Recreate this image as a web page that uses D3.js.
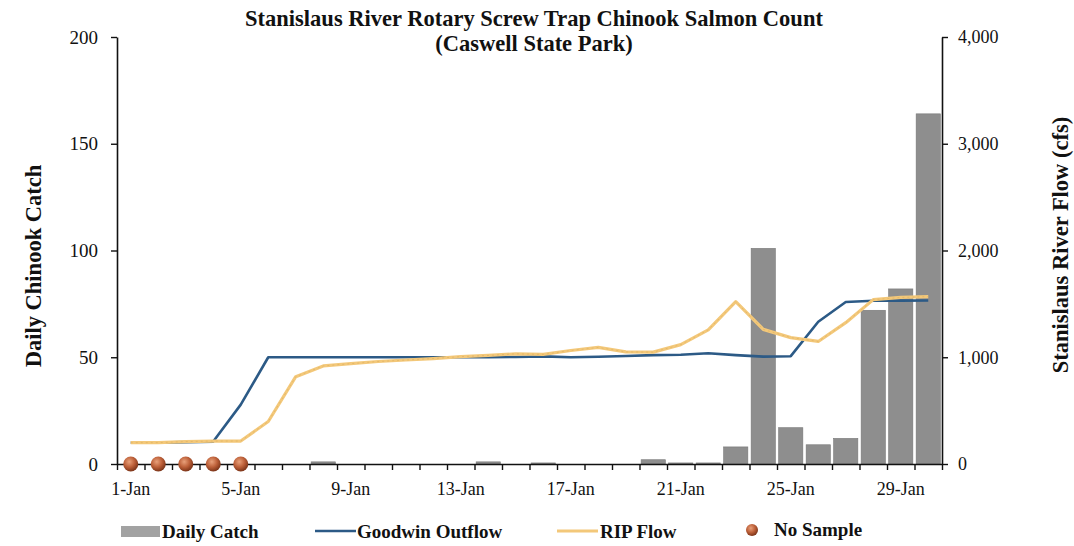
<!DOCTYPE html>
<html>
<head>
<meta charset="utf-8">
<script src="https://cdn.jsdelivr.net/npm/d3@7"></script>
<style>
  html, body { margin: 0; padding: 0; background: #fff; }
  svg { display: block; }
  text { font-family: "Liberation Serif", "Times New Roman", serif; }
</style>
</head>
<body>
<svg id="chart" width="1074" height="546"></svg>
<script>
// ---- data ----
const categories = ["1-Jan","2-Jan","3-Jan","4-Jan","5-Jan","6-Jan","7-Jan","8-Jan","9-Jan","10-Jan",
  "11-Jan","12-Jan","13-Jan","14-Jan","15-Jan","16-Jan","17-Jan","18-Jan","19-Jan","20-Jan",
  "21-Jan","22-Jan","23-Jan","24-Jan","25-Jan","26-Jan","27-Jan","28-Jan","29-Jan","30-Jan"];
const xTickLabels = ["1-Jan","5-Jan","9-Jan","13-Jan","17-Jan","21-Jan","25-Jan","29-Jan"];
const dailyCatch = [null,null,null,null,null,0,0,1,0,0,0,0,0,1,0,0.5,0,0,0,2,0.5,0.5,8,101,17,9,12,72,82,164];
const goodwinOutflow = [200,200,205,210,556,1000,1000,1000,1000,1000,1000,1000,1000,1000,1003,1008,1000,1004,1012,1020,1024,1037,1020,1006,1010,1333,1517,1529,1530,1532];
const ripFlow = [200,200,210,215,215,398,818,919,940,960,974,988,1006,1017,1032,1027,1063,1092,1050,1048,1118,1257,1520,1261,1184,1148,1324,1540,1560,1568];
const noSampleDays = ["1-Jan","2-Jan","3-Jan","4-Jan","5-Jan"];
const leftTicks = [0,50,100,150,200];
const rightTicks = [0,1000,2000,3000,4000];
const titleLines = ["Stanislaus River Rotary Screw Trap Chinook Salmon Count","(Caswell State Park)"];
const legendItems = ["Daily Catch","Goodwin Outflow","RIP Flow","No Sample"];

// ---- layout ----
const L = 117, R = 942, T = 37, B = 464;
const svg = d3.select("#chart");

const x = d3.scaleBand().domain(categories).range([L, R]).paddingInner(0.12).paddingOuter(0.06);
const xIdx = d3.scaleLinear().domain([0, categories.length]).range([L, R]);
const yL = d3.scaleLinear().domain([0, 200]).range([B, T]);
const yR = d3.scaleLinear().domain([0, 4000]).range([B, T]);
const cx = d => x(d) + x.bandwidth() / 2;

const defs = svg.append("defs");
const grad = defs.append("radialGradient").attr("id", "ball").attr("cx", "40%").attr("cy", "35%").attr("r", "65%");
grad.append("stop").attr("offset", "0%").attr("stop-color", "#e8a07a");
grad.append("stop").attr("offset", "55%").attr("stop-color", "#bd6039");
grad.append("stop").attr("offset", "100%").attr("stop-color", "#7d3519");

// bars
svg.append("g").selectAll("rect")
  .data(categories.map((c, i) => ({c, v: dailyCatch[i]})).filter(d => d.v != null && d.v > 0))
  .join("rect")
  .attr("x", d => x(d.c))
  .attr("width", x.bandwidth())
  .attr("y", d => yL(d.v))
  .attr("height", d => B - yL(d.v))
  .attr("fill", "#8e8e8e")
  .attr("stroke", "#777")
  .attr("stroke-width", 0.6);

// lines
const lineGen = d3.line().x((d, i) => cx(categories[i])).y(d => yR(d));
svg.append("path").datum(goodwinOutflow)
  .attr("d", lineGen).attr("fill", "none")
  .attr("stroke", "#2c5a86").attr("stroke-width", 2.6).attr("stroke-linejoin", "round");
svg.append("path").datum(ripFlow)
  .attr("d", lineGen).attr("fill", "none")
  .attr("stroke", "#f3c87a").attr("stroke-width", 3.2).attr("stroke-linejoin", "round");
svg.append("path").datum(ripFlow)
  .attr("d", lineGen).attr("fill", "none")
  .attr("stroke", "#dcae5c").attr("stroke-width", 1).attr("stroke-dasharray", "2,3").attr("opacity", 0.6);

// axes
const axisStyle = g => {
  g.selectAll(".domain").attr("stroke", "#111").attr("stroke-width", 1.6);
  g.selectAll(".tick line").attr("stroke", "#111").attr("stroke-width", 1.4);
  g.selectAll("text").attr("font-family", "Liberation Serif, serif").attr("fill", "#111");
};

svg.append("g").attr("transform", `translate(${L},0)`)
  .call(d3.axisLeft(yL).tickValues(leftTicks).tickSize(6).tickSizeOuter(0).tickPadding(13))
  .call(axisStyle)
  .selectAll("text").attr("font-size", 19);

svg.append("g").attr("transform", `translate(${R},0)`)
  .call(d3.axisRight(yR).tickValues(rightTicks).tickSize(6).tickSizeOuter(0).tickPadding(10).tickFormat(d3.format(",")))
  .call(axisStyle)
  .selectAll("text").attr("font-size", 18);

svg.append("g").attr("transform", `translate(0,${B})`)
  .call(d3.axisBottom(xIdx).tickValues(d3.range(0, categories.length + 1)).tickSize(6).tickSizeOuter(0).tickFormat(""))
  .call(axisStyle);

svg.append("g").attr("transform", `translate(0,${B})`)
  .call(d3.axisBottom(x).tickValues(xTickLabels).tickSize(0).tickPadding(18))
  .call(g => g.select(".domain").remove())
  .call(axisStyle)
  .selectAll("text").attr("font-size", 18);

// no sample dots
svg.append("g").selectAll("circle").data(noSampleDays).join("circle")
  .attr("cx", d => cx(d)).attr("cy", yL(0)).attr("r", 7.5)
  .attr("fill", "url(#ball)");

// titles
svg.append("g").selectAll("text").data(titleLines).join("text")
  .attr("x", 534).attr("y", (d, i) => 26 + i * 25)
  .attr("text-anchor", "middle").attr("font-weight", "bold").attr("font-size", 22.5)
  .attr("fill", "#111").text(d => d);

svg.append("text").attr("transform", "translate(41,266) rotate(-90)")
  .attr("text-anchor", "middle").attr("font-weight", "bold").attr("font-size", 22.5)
  .attr("fill", "#111").text("Daily Chinook Catch");
svg.append("text").attr("transform", "translate(1068,245) rotate(-90)")
  .attr("text-anchor", "middle").attr("font-weight", "bold").attr("font-size", 22.5)
  .attr("fill", "#111").text("Stanislaus River Flow (cfs)");

// legend
const lg = svg.append("g").attr("font-weight", "bold").attr("font-size", 19).attr("fill", "#111");
lg.append("rect").attr("x", 121).attr("y", 526).attr("width", 39).attr("height", 11).attr("fill", "#a2a2a2");
lg.append("text").attr("x", 162).attr("y", 538).text(legendItems[0]);
lg.append("line").attr("x1", 315).attr("x2", 356).attr("y1", 531).attr("y2", 531).attr("stroke", "#2c5a86").attr("stroke-width", 2.6);
lg.append("text").attr("x", 357).attr("y", 538).text(legendItems[1]);
lg.append("line").attr("x1", 557).attr("x2", 598).attr("y1", 531).attr("y2", 531).attr("stroke", "#f3c87a").attr("stroke-width", 3.2);
lg.append("text").attr("x", 600).attr("y", 538).text(legendItems[2]);
lg.append("circle").attr("cx", 752).attr("cy", 530).attr("r", 6).attr("fill", "url(#ball)");
lg.append("text").attr("x", 774).attr("y", 536).text(legendItems[3]);
</script>
</body>
</html>
